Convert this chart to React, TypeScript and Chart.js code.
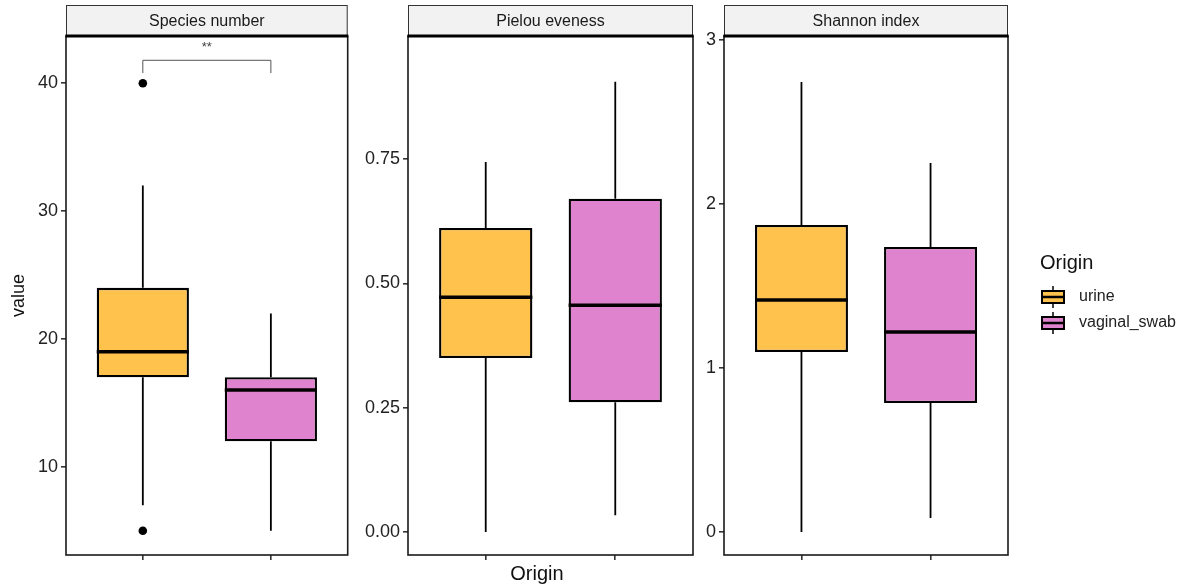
import React, { useEffect, useRef } from 'react';
import { Chart, registerables } from 'chart.js';

Chart.register(...registerables);

const FONT = "'Liberation Sans', Arial, Helvetica, sans-serif";

// ---------- data ----------
const categories = ['urine', 'vaginal_swab'];
const fillColors = ['#FEC24D', '#E083CF'];
const facetTitles = ['Species number', 'Pielou eveness', 'Shannon index'];

// Species number
const speciesLow = [7, 5];
const speciesQ1 = [17, 12];
const speciesMedian = [19, 16];
const speciesQ3 = [24, 17];
const speciesHigh = [32, 22];
const speciesOutliers = [[40, 5], []];
const speciesTicks = [10, 20, 30, 40];
const speciesTickLabels = ['10', '20', '30', '40'];
const speciesRange = [3.1, 43.7];

// Pielou eveness
const pielouLow = [0.0, 0.034];
const pielouQ1 = [0.35, 0.261];
const pielouMedian = [0.472, 0.456];
const pielouQ3 = [0.611, 0.67];
const pielouHigh = [0.744, 0.905];
const pielouOutliers = [[], []];
const pielouTicks = [0, 0.25, 0.5, 0.75];
const pielouTickLabels = ['0.00', '0.25', '0.50', '0.75'];
const pielouRange = [-0.046, 0.997];

// Shannon index
const shannonLow = [0.0, 0.085];
const shannonQ1 = [1.098, 0.787];
const shannonMedian = [1.415, 1.22];
const shannonQ3 = [1.872, 1.738];
const shannonHigh = [2.744, 2.25];
const shannonOutliers = [[], []];
const shannonTicks = [0, 1, 2, 3];
const shannonTickLabels = ['0', '1', '2', '3'];
const shannonRange = [-0.14, 3.024];

// significance annotation (Species number)
const sigPair = [1, 2];
const sigLabel = '**';
const sigBracketY = 41.8;
const sigTipY = 40.8;
const sigLabelY = 43.0;

const legendTitle = 'Origin';
const xTitle = 'Origin';
const yTitle = 'value';

type Spec = {
  title: string;
  low: number[];
  q1: number[];
  median: number[];
  q3: number[];
  high: number[];
  outliers: number[][];
  ticks: number[];
  tickLabels: string[];
  range: number[];
};

const specs: Spec[] = [
  { title: facetTitles[0], low: speciesLow, q1: speciesQ1, median: speciesMedian, q3: speciesQ3, high: speciesHigh, outliers: speciesOutliers, ticks: speciesTicks, tickLabels: speciesTickLabels, range: speciesRange },
  { title: facetTitles[1], low: pielouLow, q1: pielouQ1, median: pielouMedian, q3: pielouQ3, high: pielouHigh, outliers: pielouOutliers, ticks: pielouTicks, tickLabels: pielouTickLabels, range: pielouRange },
  { title: facetTitles[2], low: shannonLow, q1: shannonQ1, median: shannonMedian, q3: shannonQ3, high: shannonHigh, outliers: shannonOutliers, ticks: shannonTicks, tickLabels: shannonTickLabels, range: shannonRange },
];

function boxPlugin(spec: Spec) {
  return {
    id: 'boxExtras',
    beforeDatasetsDraw(chart: any) {
      const { ctx } = chart;
      const xs = chart.scales.x;
      const ys = chart.scales.y;
      ctx.save();
      ctx.strokeStyle = '#000';
      ctx.lineWidth = 1.8;
      categories.forEach((_, i) => {
        const x = xs.getPixelForValue(i + 1);
        ctx.beginPath();
        ctx.moveTo(x, ys.getPixelForValue(spec.low[i]));
        ctx.lineTo(x, ys.getPixelForValue(spec.q1[i]));
        ctx.moveTo(x, ys.getPixelForValue(spec.q3[i]));
        ctx.lineTo(x, ys.getPixelForValue(spec.high[i]));
        ctx.stroke();
      });
      ctx.restore();
    },
    afterDatasetsDraw(chart: any) {
      const { ctx } = chart;
      const xs = chart.scales.x;
      const ys = chart.scales.y;
      const meta = chart.getDatasetMeta(0);
      ctx.save();
      ctx.strokeStyle = '#000';
      ctx.lineWidth = 3.5;
      categories.forEach((_, i) => {
        const x = xs.getPixelForValue(i + 1);
        const w = meta.data[i].width;
        const y = ys.getPixelForValue(spec.median[i]);
        ctx.beginPath();
        ctx.moveTo(x - w / 2, y);
        ctx.lineTo(x + w / 2, y);
        ctx.stroke();
      });
      ctx.restore();
    },
  };
}

function framePlugin(title: string) {
  return {
    id: 'frame',
    afterDraw(chart: any) {
      const { ctx } = chart;
      const { left, right, top, bottom } = chart.chartArea;
      ctx.save();
      // panel border
      ctx.strokeStyle = '#1a1a1a';
      ctx.lineWidth = 1.6;
      ctx.strokeRect(left, top, right - left, bottom - top);
      // strip
      const stripTop = 5;
      ctx.fillStyle = '#f2f2f2';
      ctx.fillRect(left, stripTop, right - left, top - stripTop);
      ctx.strokeStyle = '#333';
      ctx.lineWidth = 1;
      ctx.strokeRect(left + 0.5, stripTop + 0.5, right - left - 1, top - stripTop);
      ctx.strokeStyle = '#000';
      ctx.lineWidth = 3;
      ctx.beginPath();
      ctx.moveTo(left - 0.5, top);
      ctx.lineTo(right + 0.5, top);
      ctx.stroke();
      ctx.fillStyle = '#1a1a1a';
      ctx.font = `16px ${FONT}`;
      ctx.textAlign = 'center';
      ctx.textBaseline = 'middle';
      ctx.fillText(title, (left + right) / 2, (stripTop + top) / 2 + 1);
      ctx.restore();
    },
  };
}

const sigPlugin = {
  id: 'sig',
  afterDatasetsDraw(chart: any) {
    const { ctx } = chart;
    const xs = chart.scales.x;
    const ys = chart.scales.y;
    const x1 = xs.getPixelForValue(sigPair[0]);
    const x2 = xs.getPixelForValue(sigPair[1]);
    const yb = ys.getPixelForValue(sigBracketY);
    const yt = ys.getPixelForValue(sigTipY);
    ctx.save();
    ctx.strokeStyle = '#555';
    ctx.lineWidth = 1;
    ctx.beginPath();
    ctx.moveTo(x1, yt);
    ctx.lineTo(x1, yb);
    ctx.lineTo(x2, yb);
    ctx.lineTo(x2, yt);
    ctx.stroke();
    ctx.fillStyle = '#444';
    ctx.font = `13px ${FONT}`;
    ctx.textAlign = 'center';
    ctx.textBaseline = 'middle';
    ctx.fillText(sigLabel, (x1 + x2) / 2, ys.getPixelForValue(sigLabelY) + 2);
    ctx.restore();
  },
};

function legendPlugin(offsetX: number) {
  return {
    id: 'originLegend',
    afterDraw(chart: any) {
      const { ctx } = chart;
      ctx.save();
      ctx.fillStyle = '#111';
      ctx.font = `20px ${FONT}`;
      ctx.textAlign = 'left';
      ctx.textBaseline = 'middle';
      ctx.fillText(legendTitle, 1040 - offsetX, 263);
      const centers = [297, 323];
      categories.forEach((c, i) => {
        const cy = centers[i];
        const bx = 1042 - offsetX;
        const bw = 22;
        const cx = bx + bw / 2;
        ctx.strokeStyle = '#000';
        ctx.lineWidth = 1.5;
        ctx.beginPath();
        ctx.moveTo(cx, cy - 11);
        ctx.lineTo(cx, cy + 11);
        ctx.stroke();
        ctx.fillStyle = fillColors[i];
        ctx.fillRect(bx, cy - 6, bw, 12);
        ctx.lineWidth = 2;
        ctx.strokeRect(bx, cy - 6, bw, 12);
        ctx.lineWidth = 2.5;
        ctx.beginPath();
        ctx.moveTo(bx, cy);
        ctx.lineTo(bx + bw, cy);
        ctx.stroke();
        ctx.fillStyle = '#222';
        ctx.font = `16px ${FONT}`;
        ctx.fillText(c, 1079 - offsetX, cy);
      });
      ctx.restore();
    },
  };
}

type PanelProps = {
  spec: Spec;
  left: number;
  width: number;
  axisWidth: number;
  padRight: number;
  showYTitle?: boolean;
  extra?: any[];
};

function Panel({ spec, left, width, axisWidth, padRight, showYTitle, extra }: PanelProps) {
  const ref = useRef<HTMLCanvasElement>(null);
  useEffect(() => {
    if (!ref.current) return;
    const outlierPoints: { x: number; y: number }[] = [];
    spec.outliers.forEach((arr, i) => arr.forEach((v) => outlierPoints.push({ x: i + 1, y: v })));
    const chart = new Chart(ref.current, {
      type: 'bar',
      data: {
        datasets: [
          {
            type: 'bar',
            data: categories.map((_, i) => ({ x: i + 1, y: [spec.q1[i], spec.q3[i]] })) as any,
            backgroundColor: fillColors,
            borderColor: '#000',
            borderWidth: 2.3,
            borderSkipped: false,
            barPercentage: 0.72,
            categoryPercentage: 1,
          } as any,
          {
            type: 'scatter',
            data: outlierPoints,
            pointRadius: 4.3,
            pointBackgroundColor: '#000',
            pointBorderColor: '#000',
            pointBorderWidth: 0,
          } as any,
        ],
      },
      options: {
        responsive: false,
        maintainAspectRatio: false,
        animation: false,
        layout: { padding: { top: 36, right: padRight, left: 0, bottom: 0 } },
        plugins: { legend: { display: false }, tooltip: { enabled: false } },
        scales: {
          x: {
            type: 'linear',
            min: 0.4,
            max: 2.6,
            offset: false,
            afterBuildTicks: (s: any) => {
              s.ticks = categories.map((_, i) => ({ value: i + 1 }));
            },
            afterFit: (s: any) => {
              s.height = 33;
            },
            ticks: { display: false },
            grid: { offset: false, drawOnChartArea: false, drawTicks: true, tickLength: 5, color: '#333', lineWidth: 1.6 },
            border: { display: false },
          },
          y: {
            type: 'linear',
            min: spec.range[0],
            max: spec.range[1],
            afterBuildTicks: (s: any) => {
              s.ticks = spec.ticks.map((v) => ({ value: v }));
            },
            afterFit: (s: any) => {
              s.width = axisWidth;
            },
            ticks: {
              callback: (_v: any, i: number) => spec.tickLabels[i],
              font: { family: FONT, size: 18 },
              color: '#222',
              padding: 3,
            },
            grid: { drawOnChartArea: false, drawTicks: true, tickLength: 5, color: '#333', lineWidth: 1.6 },
            border: { display: false },
            title: {
              display: !!showYTitle,
              text: yTitle,
              font: { family: FONT, size: 18 },
              color: '#111',
              padding: { top: 8, bottom: 0 },
            },
          },
        },
      } as any,
      plugins: [boxPlugin(spec), framePlugin(spec.title), ...(extra || [])],
    });
    return () => chart.destroy();
  }, []);
  return (
    <canvas
      ref={ref}
      width={width}
      height={588}
      style={{ position: 'absolute', left, top: 0, width, height: 588 }}
    />
  );
}

export default function App() {
  return (
    <div
      style={{
        position: 'fixed',
        left: 0,
        top: 0,
        width: 1184,
        height: 588,
        background: '#fff',
        overflow: 'hidden',
      }}
    >
      <Panel spec={specs[0]} left={0} width={352} axisWidth={66} padRight={2} showYTitle extra={[sigPlugin]} />
      <Panel spec={specs[1]} left={352} width={343} axisWidth={56} padRight={2} />
      <Panel spec={specs[2]} left={695} width={489} axisWidth={29} padRight={176} extra={[legendPlugin(695)]} />
      <div
        style={{
          position: 'absolute',
          left: 437,
          width: 200,
          top: 561,
          textAlign: 'center',
          fontFamily: FONT,
          fontSize: 20,
          lineHeight: '24px',
          color: '#111',
        }}
      >
        {xTitle}
      </div>
    </div>
  );
}
